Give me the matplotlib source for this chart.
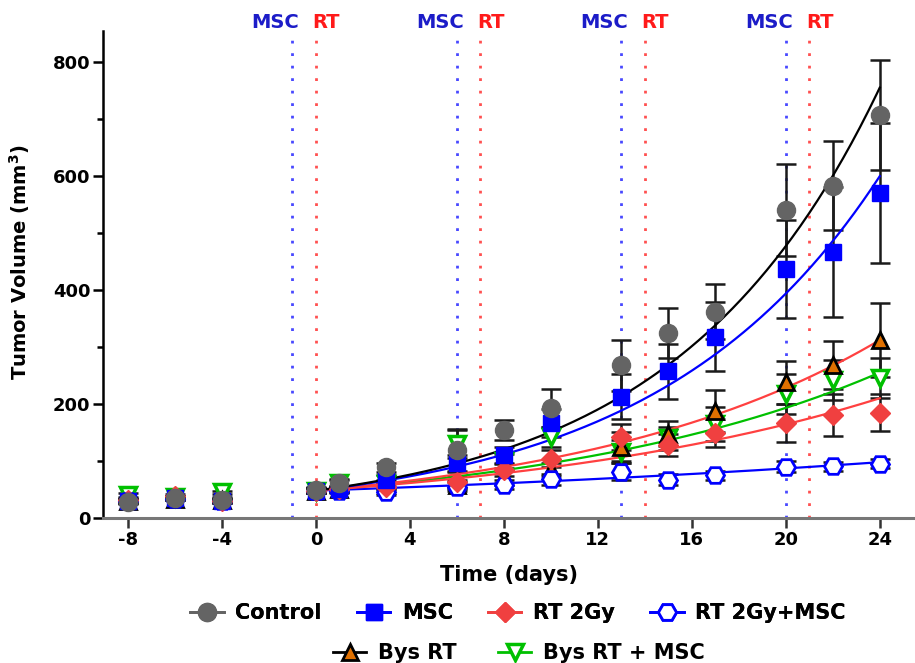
import numpy as np
import matplotlib
matplotlib.use("Agg")
import matplotlib.pyplot as plt
from matplotlib.lines import Line2D

plt.rcParams['font.family'] = ['DejaVu Sans']
plt.rcParams['font.weight'] = 'bold'
plt.rcParams['mathtext.default'] = 'bf'
plt.rcParams['axes.unicode_minus'] = False

# days of measurement
days = [-8, -6, -4, 0, 1, 3, 6, 8, 10, 13, 15, 17, 20, 22, 24]

# mean tumor volume (mm3) and SEM
control = [28, 35, 32, 49, 61, 89, 119, 154, 193, 268, 325, 362, 540, 583, 707]
control_err = [3, 4, 4, 5, 6, 8, 37, 18, 33, 45, 44, 48, 80, 78, 96]
msc = [30, 35, 30, 48, 51, 67, 96, 110, 167, 213, 257, 318, 437, 466, 570]
msc_err = [3, 3, 3, 4, 5, 8, 15, 15, 25, 40, 48, 60, 86, 114, 123]
rt2 = [32, 38, 30, 48, 50, 55, 63, 85, 104, 142, 128, 149, 167, 180, 185]
rt2_err = [3, 4, 3, 4, 5, 6, 10, 12, 15, 22, 20, 25, 33, 37, 33]
rt2_msc = [30, 34, 30, 48, 48, 46, 55, 58, 68, 81, 67, 75, 90, 91, 95]
rt2_msc_err = [3, 3, 3, 4, 5, 5, 8, 8, 10, 15, 10, 8, 10, 8, 8]
bys = [30, 34, 32, 48, 50, 58, 58, 72, 85, 125, 148, 188, 238, 268, 312]
bys_err = [3, 3, 3, 4, 5, 6, 8, 10, 12, 25, 22, 37, 38, 42, 65]
bys_msc = [40, 36, 45, 48, 62, 60, 130, 100, 142, 116, 140, 165, 218, 242, 245]
bys_msc_err = [3, 3, 3, 4, 6, 6, 25, 12, 18, 20, 20, 30, 35, 35, 35]

# exponential growth fits Y = Y0*exp(k*t), from day 0 on
fit_y0 = [48, 48, 48, 48, 48, 48]
fit_k = [0.1148, 0.1052, 0.0615, 0.0297, 0.0780, 0.0696]

# treatment days
msc_days = [-1, 6, 13, 20]
rt_days = [0, 7, 14, 21]

labels = ['Control', 'MSC', 'RT 2Gy', 'RT 2Gy+MSC', 'Bys RT', 'Bys RT + MSC']
values = [control, msc, rt2, rt2_msc, bys, bys_msc]
errors = [control_err, msc_err, rt2_err, rt2_msc_err, bys_err, bys_msc_err]

styles = [
    dict(marker='o', ms=13, mfc='#646464', mec='#646464', mew=1),
    dict(marker='s', ms=12, mfc='#0000ff', mec='#0000ff', mew=1),
    dict(marker='D', ms=10, mfc='#f04040', mec='#f04040', mew=1),
    dict(marker='H', ms=13, mfc='white', mec='#0000ff', mew=2),
    dict(marker='^', ms=11, mfc='#e07000', mec='black', mew=2),
    dict(marker='v', ms=11, mfc='white', mec='#00c000', mew=2.5),
]
line_colors = ['black', '#0000ff', '#ff4040', '#0000ff', '#ff4040', '#00c000']
# drawing order: green at the bottom, grey control on top
order = [5, 4, 3, 2, 1, 0]

fig = plt.figure(figsize=(9.15, 6.63), dpi=100)
ax = fig.add_axes([0.1126, 0.2187, 0.8874, 0.7345])

for d in msc_days:
    ax.axvline(d, color='#4848ff', lw=2, ls=(0, (1, 3.5)), zorder=1)
    ax.text(d + 0.3, 1.017, 'MSC', transform=ax.get_xaxis_transform(),
            ha='right', va='center', color='#1c1cc8', fontsize=14, fontweight='bold')
for d in rt_days:
    ax.axvline(d, color='#ff5050', lw=2, ls=(0, (1, 3.5)), zorder=1)
    ax.text(d - 0.15, 1.017, 'RT', transform=ax.get_xaxis_transform(),
            ha='left', va='center', color='#ff1a1a', fontsize=14, fontweight='bold')

t = np.linspace(0, 24, 200)
for i in order:
    ax.errorbar(days, values[i], yerr=errors[i], fmt='none', ecolor='#1a1a1a',
                elinewidth=1.8, capsize=7, capthick=1.8, zorder=2)
for i in order:
    ax.plot(t, fit_y0[i] * np.exp(fit_k[i] * t), color=line_colors[i], lw=1.6, zorder=3)
for i in order:
    ax.plot(days, values[i], ls='none', zorder=4, **styles[i])

ax.set_xlim(-9.06, 25.5)
ax.set_ylim(0, 854)
ax.set_xticks([-8, -4, 0, 4, 8, 12, 16, 20, 24])
ax.set_yticks([0, 200, 400, 600, 800])
ax.set_yticks([100, 300, 500, 700], minor=True)
ax.tick_params(axis='both', labelsize=13, width=1.8, length=7, direction='out', pad=2)
ax.tick_params(axis='y', which='minor', width=1.8, length=4)
ax.tick_params(axis='x', colors='#333333', labelcolor='black')
for lab in ax.get_xticklabels() + ax.get_yticklabels():
    lab.set_fontweight('bold')

ax.spines['top'].set_visible(False)
ax.spines['right'].set_visible(False)
ax.spines['left'].set_linewidth(1.8)
ax.spines['bottom'].set_linewidth(2.2)
ax.spines['bottom'].set_color('#777777')

ax.set_xlabel('Time (days)', fontsize=15, fontweight='bold', labelpad=12)
ax.set_ylabel('Tumor Volume (mm$^3$)', fontsize=14, fontweight='bold')
ax.yaxis.set_label_coords(-0.088, 0.526)

handles = []
for i in range(6):
    handles.append(Line2D([], [], color=styles[i]['mec'] if i != 0 else '#646464',
                          lw=2, **styles[i]))
leg1 = fig.legend(handles[:4], labels[:4], loc='center', ncol=4,
                  bbox_to_anchor=(0.566, 0.0754), frameon=False,
                  handlelength=1.6, handletextpad=0.55, columnspacing=1.7,
                  prop={'weight': 'bold', 'size': 15})
fig.add_artist(leg1)
fig.legend(handles[4:], labels[4:], loc='center', ncol=2,
           bbox_to_anchor=(0.567, 0.015), frameon=False,
           handlelength=1.6, handletextpad=0.55, columnspacing=2.0,
           prop={'weight': 'bold', 'size': 15})

fig.savefig('out.png', dpi=100)
